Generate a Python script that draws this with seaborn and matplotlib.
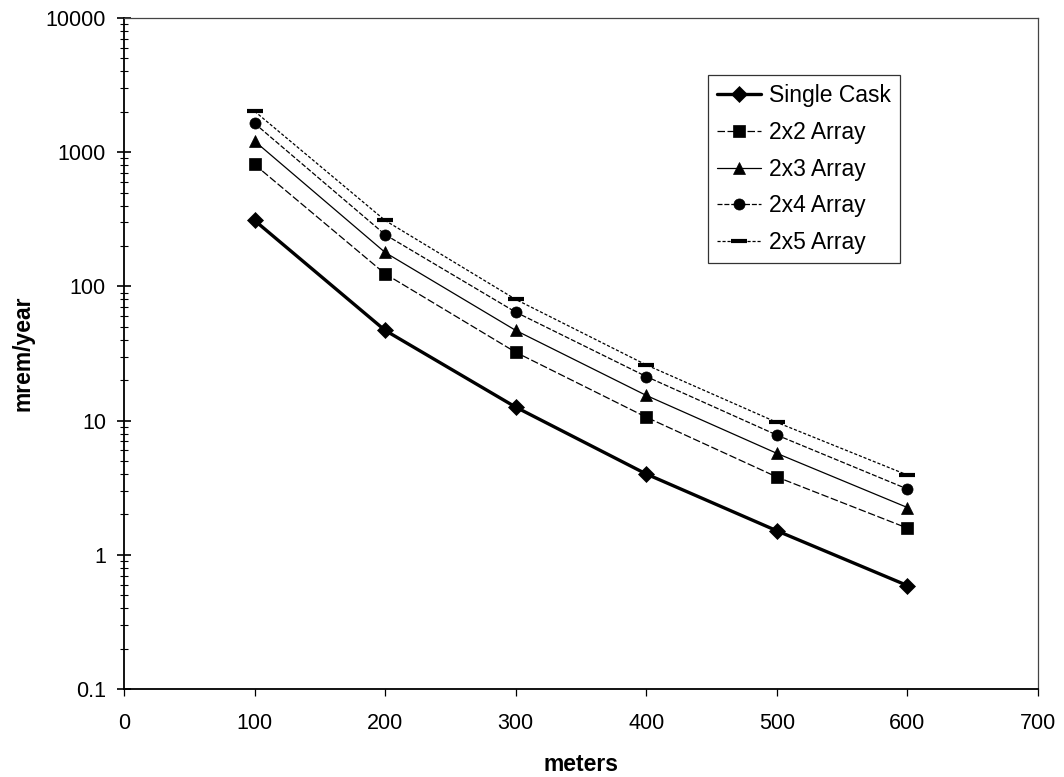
# dose vs distance for cask arrays

import numpy as np
import pandas as pd
import matplotlib
matplotlib.use('Agg')
import matplotlib.pyplot as plt
import seaborn as sns
from matplotlib.ticker import LogLocator, NullFormatter, FixedLocator


meters = [100, 200, 300, 400, 500, 600]

single_cask = [310, 47, 12.6, 4.0, 1.51, 0.59]
array_2x2 = [810, 124, 32.3, 10.6, 3.8, 1.58]
array_2x3 = [1210, 179, 47, 15.4, 5.7, 2.25]
array_2x4 = [1640, 243, 64.3, 21.3, 7.8, 3.09]
array_2x5 = [2020, 310, 80, 26, 9.7, 3.93]

series_names = ['Single Cask', '2x2 Array', '2x3 Array', '2x4 Array', '2x5 Array']
series_vals = [single_cask, array_2x2, array_2x3, array_2x4, array_2x5]

df = pd.DataFrame({
    'meters': meters * len(series_names),
    'dose': np.concatenate(series_vals),
    'series': np.repeat(series_names, len(meters)),
})

sns.set_style('white', {'text.color': 'black', 'axes.labelcolor': 'black',
                        'xtick.color': 'black', 'ytick.color': 'black'})
plt.rcParams['font.family'] = ['Liberation Sans', 'DejaVu Sans']

fig = plt.figure(figsize=(10.64, 7.77), dpi=100)
ax = fig.add_axes([124 / 1064, 1 - 689 / 777, 914 / 1064, 671 / 777])

# marker, size, line width, dash pattern
styles = {
    'Single Cask': ('D', 8, 2.4, ''),
    '2x2 Array': ('s', 8, 0.9, (6, 2)),
    '2x3 Array': ('^', 9, 0.9, ''),
    '2x4 Array': ('o', 8, 0.9, (4, 1.5)),
    '2x5 Array': ('_', 12, 0.9, (2.5, 1.5)),
}

for name in series_names:
    mk, ms, lw, dash = styles[name]
    sub = df[df['series'] == name]
    sns.lineplot(data=sub, x='meters', y='dose', ax=ax, color='black',
                 marker=mk, markersize=ms, linewidth=lw, label=name,
                 markeredgecolor='black', markerfacecolor='black',
                 markeredgewidth=3 if mk == '_' else 0.5)
    if dash:
        ax.lines[-1].set_dashes(dash)

ax.set_yscale('log')
ax.set_ylim(0.1, 10000)
ax.set_xlim(0, 700)
ax.xaxis.set_major_locator(FixedLocator([0, 100, 200, 300, 400, 500, 600, 700]))
ax.yaxis.set_minor_locator(LogLocator(base=10, subs=np.arange(2, 10), numticks=10))
ax.yaxis.set_minor_formatter(NullFormatter())
ax.set_yticks([0.1, 1, 10, 100, 1000, 10000])
ax.set_yticklabels(['0.1', '1', '10', '100', '1000', '10000'])

ax.tick_params(axis='y', which='major', direction='inout', length=10, width=1.2,
               labelsize=15.5, pad=8, left=True)
ax.tick_params(axis='y', which='minor', direction='inout', length=6, width=0.8, left=True)
ax.tick_params(axis='x', which='major', direction='out', length=5, width=0.9,
               labelsize=15.5, pad=12, bottom=True)

for side in ['left', 'bottom']:
    ax.spines[side].set_color('black')
    ax.spines[side].set_linewidth(1.3)
for side in ['top', 'right']:
    ax.spines[side].set_color('#444444')
    ax.spines[side].set_linewidth(0.9)

ax.set_xlabel('meters', fontsize=16.5, fontweight='bold', labelpad=14)
ax.set_ylabel('mrem/year', fontsize=16.5, fontweight='bold', labelpad=8)

leg = ax.legend(loc='upper left', bbox_to_anchor=(0.639, 0.915), borderaxespad=0,
                fontsize=16.5, frameon=True, fancybox=False, edgecolor='black',
                handlelength=1.9, labelspacing=0.6, borderpad=0.4, handletextpad=0.35)
leg.get_frame().set_linewidth(0.9)

plt.savefig('out.png', dpi=100)
